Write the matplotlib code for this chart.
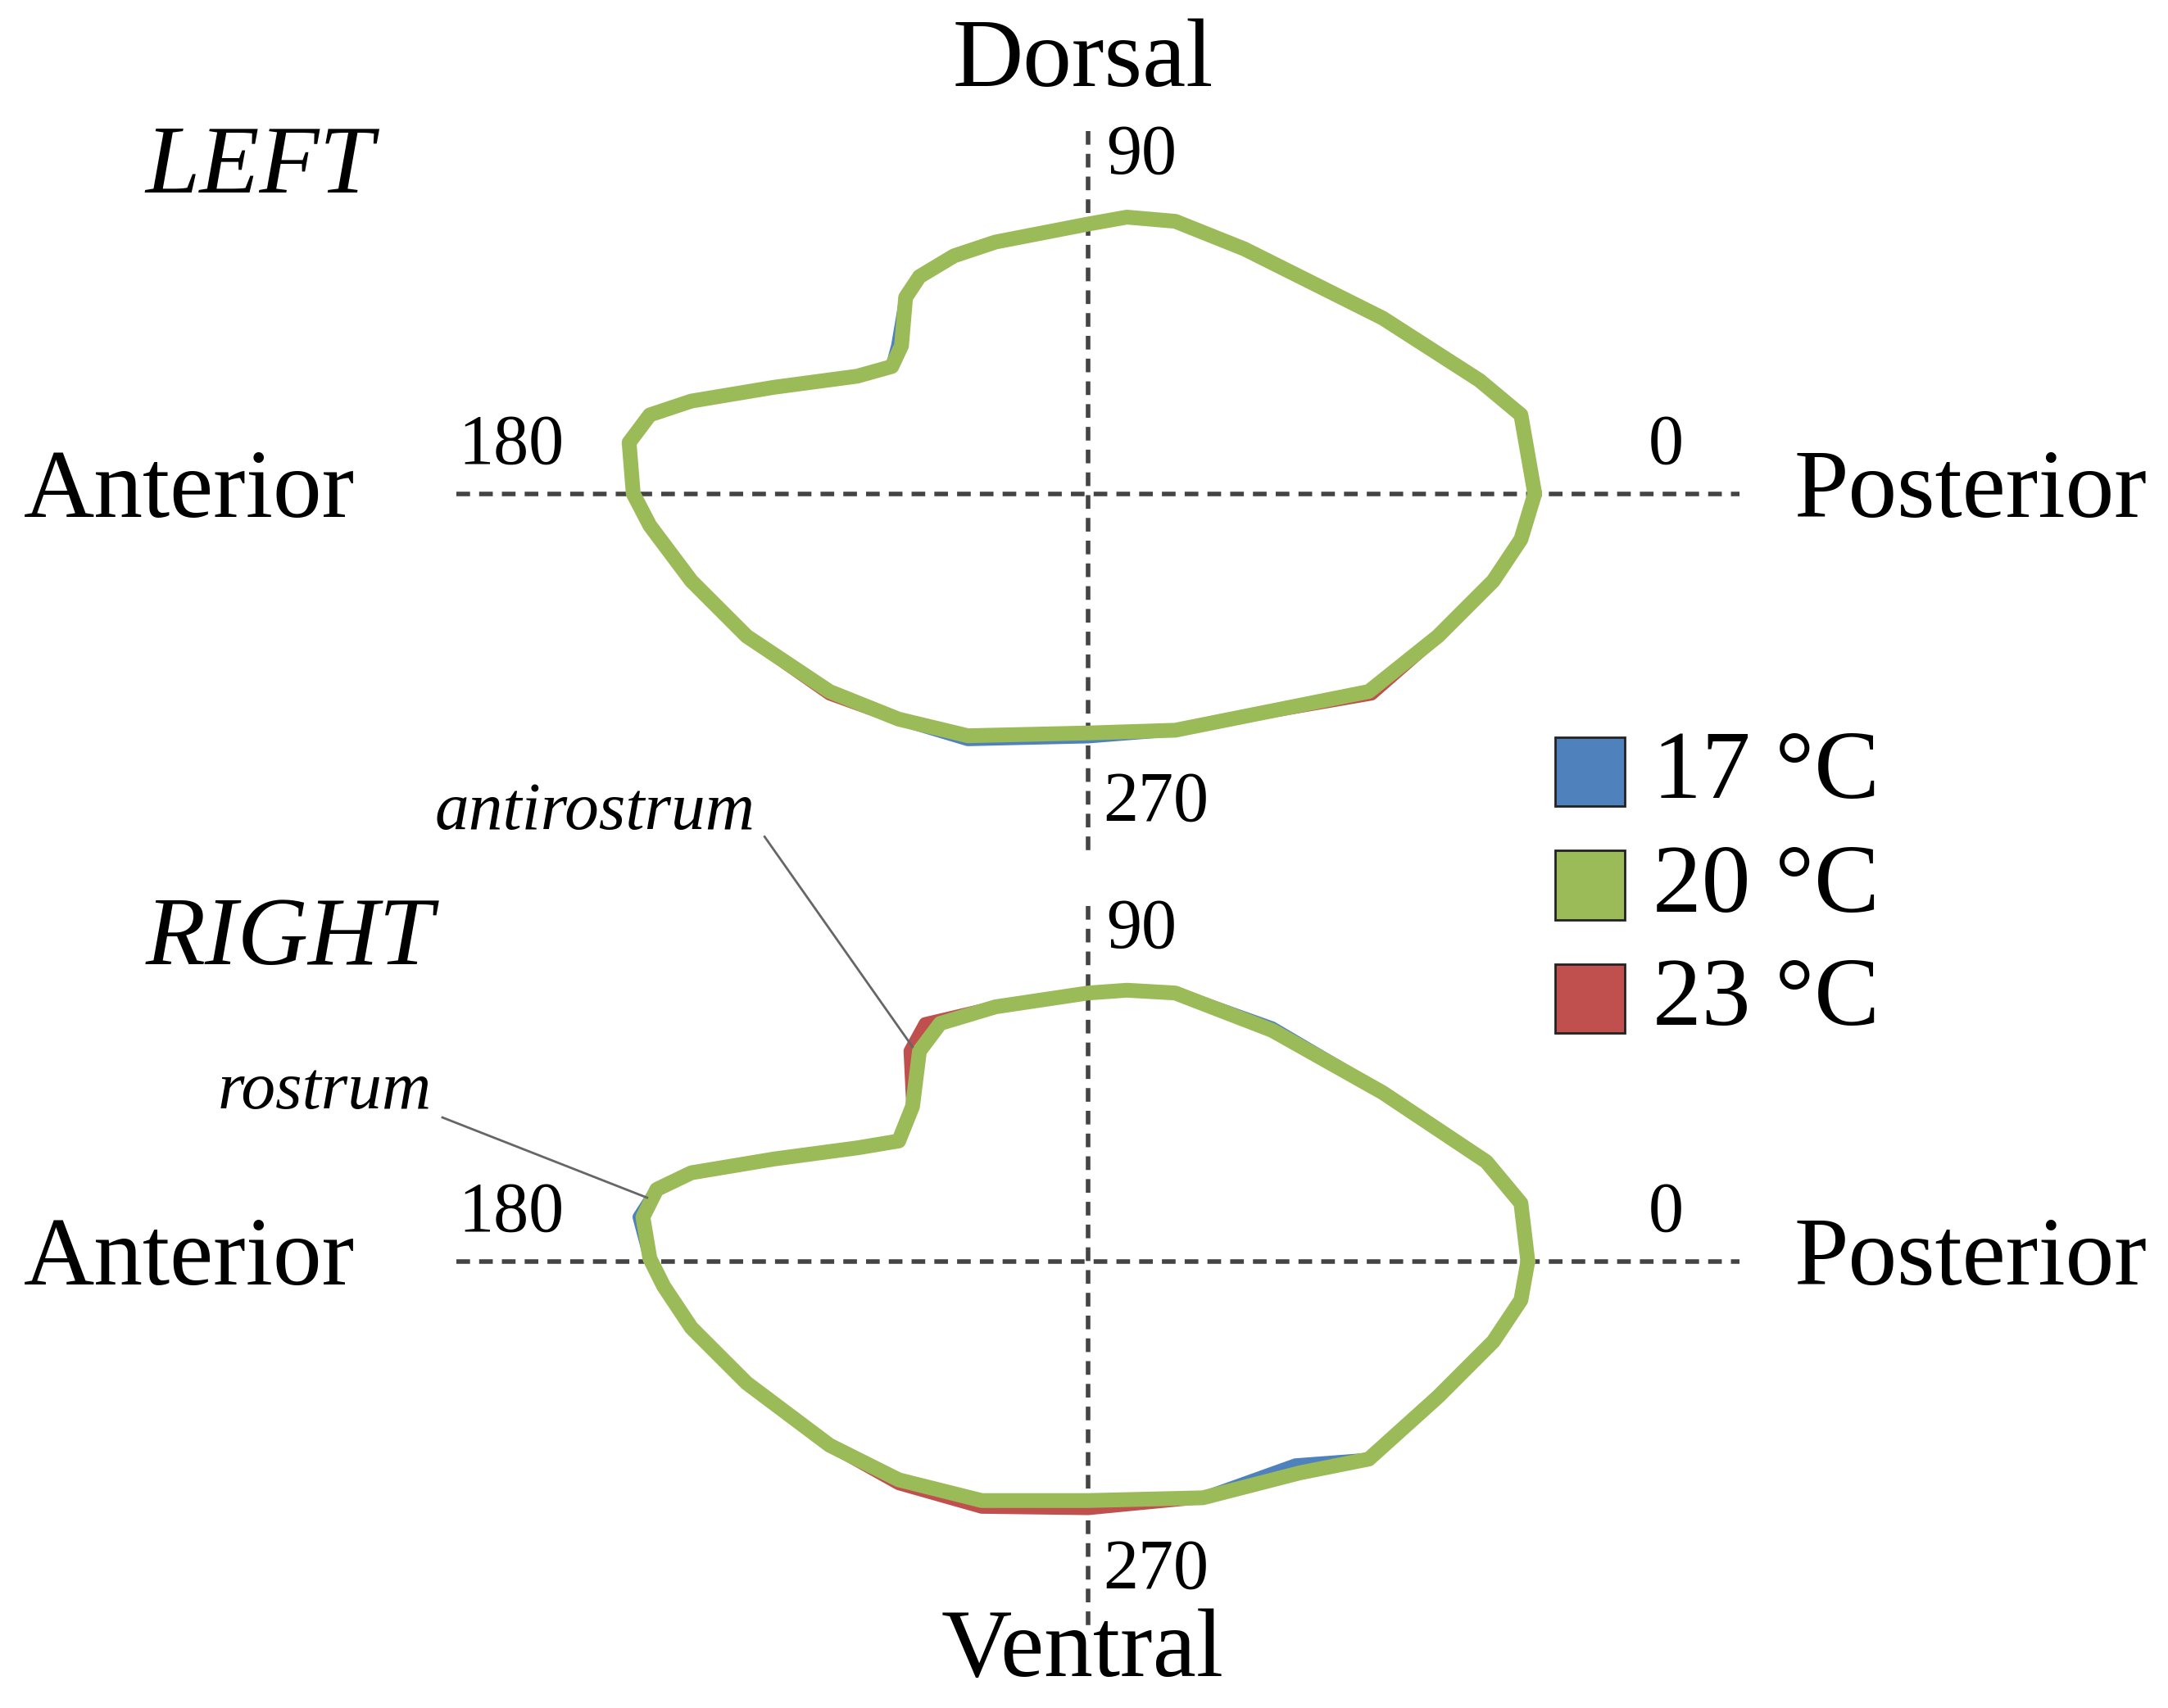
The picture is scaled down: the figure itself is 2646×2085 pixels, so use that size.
import matplotlib
matplotlib.use("Agg")
import matplotlib.pyplot as plt
import numpy as np

# contour offsets from centre (x right, y up), units of reference pixels
left_green_x = [323,313,283,213,113,63,28,0,-67,-97,-122,-132,-135,-142,-167,-227,-287,-317,-332,-329,-317,-287,-247,-187,-137,-87,0,63,113,203,253,293,313,323]
left_green_y = [0,57,82,127,177,197,200,195,182,172,157,142,107,92,85,77,67,57,37,0,-23,-63,-103,-143,-163,-175,-173,-171,-161,-143,-103,-63,-33,0]
left_blue_x = list(left_green_x); left_blue_x[12] = -138
left_blue_y = list(left_green_y); left_blue_y[25] = -178; left_blue_y[26] = -176
left_red_x = list(left_green_x); left_red_x[29] = 205
left_red_y = list(left_green_y); left_red_y[29] = -145; left_red_y[23] = -145

right_green_x = [318,313,288,213,133,63,28,0,-67,-107,-122,-127,-137,-167,-227,-287,-312,-322,-317,-307,-287,-247,-187,-137,-77,0,83,153,203,253,293,313,318]
right_green_y = [0,42,72,122,167,194,196,194,184,172,152,112,87,82,74,64,52,32,2,-18,-48,-88,-133,-158,-173,-173,-171,-153,-143,-98,-58,-28,0]
right_blue_x = list(right_green_x); right_blue_x[27] = 150; right_blue_x[17] = -325
right_blue_y = list(right_green_y); right_blue_y[27] = -147; right_blue_y[4] = 169
right_red_x = list(right_green_x); right_red_x[9] = -118; right_red_x[10] = -129
right_red_y = list(right_green_y); right_red_y[24] = -178; right_red_y[25] = -179; right_red_y[23] = -161

legend_labels = ["17 °C", "20 °C", "23 °C"]
colors = ["#4F81BD", "#9BBB59", "#C0504D"]

plt.rcParams['font.family'] = ['Liberation Serif', 'DejaVu Serif']
fig = plt.figure(figsize=(26.46, 20.85), dpi=100)
ax = fig.add_axes([0, 0, 1, 1])
ax.set_xlim(0, 1568); ax.set_ylim(1235, 0); ax.axis('off')

def panel(cy, data, title, ty, vtop, vbot):
    ax.plot([330, 1258], [cy, cy], ls=(0, (3, 2)), color='#444444', lw=4)
    ax.plot([787, 787], [vtop, vbot], ls=(0, (3, 2)), color='#444444', lw=4)
    for (xs, ys), c in zip(data, [colors[2], colors[0], colors[1]]):
        ax.plot(787 + np.array(xs), cy - np.array(ys), color=c,
                lw=13 if c == colors[1] else 11, solid_joinstyle='round', solid_capstyle='round')
    fs = 62
    ax.text(137, cy, "Anterior", fontsize=86, ha='center', va='center')
    ax.text(1425, cy, "Posterior", fontsize=86, ha='center', va='center')
    ax.text(370, cy - 34, "180", fontsize=fs, ha='center', va='center')
    ax.text(1205, cy - 34, "0", fontsize=fs, ha='center', va='center')
    ax.text(800, vtop + 18, "90", fontsize=fs, ha='left', va='center')
    ax.text(798, cy + 224, "270", fontsize=fs, ha='left', va='center')
    ax.text(105, ty, title, fontsize=86, style='italic', ha='left', va='center')

panel(357, [(left_red_x, left_red_y), (left_blue_x, left_blue_y), (left_green_x, left_green_y)],
      "LEFT", 122, 95, 618)
panel(912, [(right_red_x, right_red_y), (right_blue_x, right_blue_y), (right_green_x, right_green_y)],
      "RIGHT", 680, 655, 1175)

ax.text(783, 45, "Dorsal", fontsize=86, ha='center', va='center')
ax.text(783, 1195, "Ventral", fontsize=86, ha='center', va='center')

ax.text(430, 588, "antirostrum", fontsize=60, style='italic', ha='center', va='center')
ax.plot([553, 660], [605, 757], color='#666666', lw=2)
ax.text(235, 790, "rostrum", fontsize=60, style='italic', ha='center', va='center')
ax.plot([320, 808 and 320], [808, 808], color='none')
ax.plot([320, 468], [808, 866], color='#666666', lw=2)

for i, (lab, c) in enumerate(zip(legend_labels, colors)):
    y0 = 533 + i * 82
    ax.add_patch(plt.Rectangle((1125, y0), 50, 50, facecolor=c, edgecolor='#222222', lw=2))
    ax.text(1195, y0 + 27, lab, fontsize=86, ha='left', va='center')

fig.savefig("out.png", dpi=100)
